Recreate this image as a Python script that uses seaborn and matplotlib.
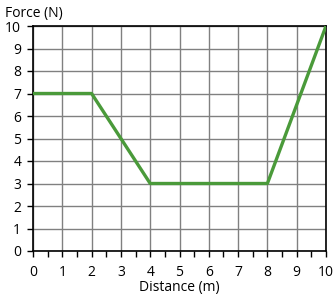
import matplotlib
matplotlib.use("Agg")
import matplotlib.pyplot as plt
import seaborn as sns
import pandas as pd
from matplotlib.ticker import MultipleLocator

distance = [0, 2, 4, 8, 10]
force = [7, 7, 3, 3, 10]
x_ticks = list(range(0, 11))
y_ticks = list(range(0, 11))

sns.set_style("white")
plt.rcParams['font.family'] = ['Open Sans', 'DejaVu Sans']

df = pd.DataFrame({"Distance (m)": distance, "Force (N)": force})

fig = plt.figure(figsize=(3.36, 3.0), dpi=100)
ax = fig.add_axes([33/336, 49/300, 293/336, 225/300])
sns.lineplot(data=df, x="Distance (m)", y="Force (N)", ax=ax,
             color="#4a9a3a", linewidth=2.4, zorder=3)

ax.set_xlim(0, 10)
ax.set_ylim(0, 10)
ax.set_xticks(x_ticks)
ax.set_yticks(y_ticks)
ax.xaxis.set_minor_locator(MultipleLocator(0.5))
ax.grid(True, which="major", color="#808080", linewidth=1.0, zorder=0)
for s in ax.spines.values():
    s.set_color("black")
    s.set_linewidth(1.2)
    s.set_visible(True)
ax.tick_params(axis="both", which="major", direction="out", length=4, width=1,
               color="black", labelsize=10, labelcolor="black", left=True, bottom=True)
ax.tick_params(axis="x", which="major", pad=6)
ax.tick_params(axis="y", which="major", pad=4.5)
ax.tick_params(axis="x", which="minor", direction="out", length=4, width=1,
               color="black", bottom=True)
ax.set_xlabel("Distance (m)", fontsize=10, color="black", labelpad=0)
ax.set_ylabel("")
fig.text(5/336, 1 - 13/300, "Force (N)", fontsize=10, color="black",
         ha="left", va="center")

fig.savefig("out.png", dpi=100)
